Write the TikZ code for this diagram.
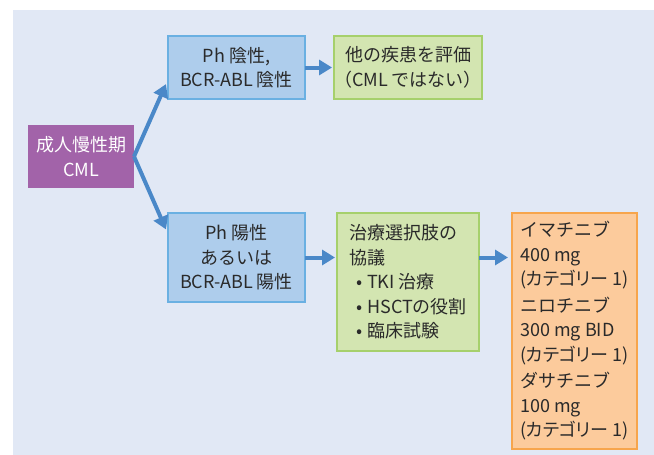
\documentclass[tikz,border=0pt]{standalone}
\usepackage{fontspec}
\setmainfont{Noto Sans CJK JP}
\newfontfamily\paltfont[RawFeature=+palt]{Noto Sans CJK JP}
\usetikzlibrary{arrows.meta,calc}
\definecolor{panel}{HTML}{E1E8F5}
\definecolor{txt}{HTML}{2A2A2A}
\definecolor{purp}{HTML}{A263A9}
\definecolor{bluefill}{HTML}{AECDEC}
\definecolor{blueline}{HTML}{6AB0E2}
\definecolor{greenfill}{HTML}{D3E5B1}
\definecolor{greenline}{HTML}{A6D06C}
\definecolor{orangefill}{HTML}{FCCB9C}
\definecolor{orangeline}{HTML}{F7A54C}
\definecolor{arrowc}{HTML}{4A88C8}
\newcommand{\categ}{{\paltfont(カテゴリー 1)}}
\begin{document}
\begin{tikzpicture}[x=1pt,y=-1pt,
  box/.style={inner sep=0pt,outer sep=0pt,line width=2pt,text=txt,
    font=\fontsize{18}{24.5}\selectfont},
  bluebox/.style={box,fill=bluefill,draw=blueline,align=center},
  greenbox/.style={box,fill=greenfill,draw=greenline},
  orangebox/.style={box,fill=orangefill,draw=orangeline},
  conn/.style={line width=4pt,draw=arrowc,-{Triangle[length=13pt,width=15pt]}}]
\useasboundingbox (0,0) rectangle (654,455);
\fill[white] (0,0) rectangle (654,455);
\fill[panel] (13,10) rectangle (654,455);

\node[box,fill=purp,text=white,align=center,minimum width=106pt,minimum height=63pt]
  (cml) at (81,156.5) {成人慢性期\\CML};
\node[bluebox,minimum width=137pt,minimum height=63pt]
  (neg) at (236.5,67.5) {Ph 陰性,\\BCR-ABL 陰性};
\node[greenbox,align=center,minimum width=142pt,minimum height=63pt]
  (other) at (408,67.5) {他の疾患を評価\\（CML ではない）};
\node[bluebox,minimum width=137pt,minimum height=89pt]
  (pos) at (236.5,257.5) {Ph 陽性\\あるいは\\BCR-ABL 陽性};
\node[greenbox,align=left,minimum width=142pt,minimum height=138pt]
  (opt) at (408,282) {治療選択肢の\\協議\\\hspace*{7pt}•\hspace{5pt}TKI 治療\\\hspace*{7pt}•\hspace{5pt}HSCTの役割\\\hspace*{7pt}•\hspace{5pt}臨床試験};
\node[orangebox,align=left,minimum width=125pt,minimum height=236pt]
  (drug) at (574.5,331) {イマチニブ\\400 mg\\\categ\\[2pt]ニロチニブ\\300 mg BID\\\categ\\[2pt]ダサチニブ\\100 mg\\\categ};

\draw[conn,shorten >=5pt] (cml.east) -- ([yshift=-12pt]neg.west);
\draw[conn,shorten >=5pt] (cml.east) -- ([yshift=23.5pt]pos.west);
\draw[conn,shorten >=2pt] (neg.east) -- (other.west);
\draw[conn,shorten >=2pt] (pos.east) -- (pos.east -| opt.west);
\draw[conn,shorten >=4pt] (opt.east |- pos.east) -- (drug.west |- pos.east);
\end{tikzpicture}
\end{document}
